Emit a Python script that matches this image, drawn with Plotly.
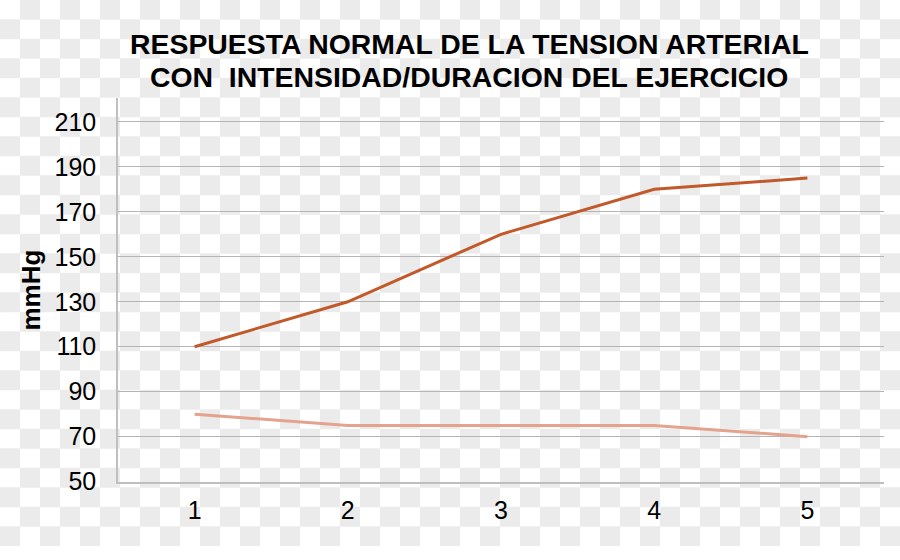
import plotly.graph_objects as go

categories = [1, 2, 3, 4, 5]
sistolica = [110, 130, 160, 180, 185]
diastolica = [80, 75, 75, 75, 70]
y_ticks = [50, 70, 90, 110, 130, 150, 170, 190, 210]
title_lines = ['RESPUESTA NORMAL DE LA TENSION ARTERIAL',
               'CON  INTENSIDAD/DURACION DEL EJERCICIO']

W, H = 900, 560
cell = 20
ncols, nrows = W // cell, H // cell
# transparent-style checkerboard background (grey cells)
cx = [j for i in range(nrows) for j in range(ncols) if (i + j) % 2 == 1]
cy = [i for i in range(nrows) for j in range(ncols) if (i + j) % 2 == 1]

fig = go.Figure()
fig.add_trace(go.Scatter(x=cx, y=cy, mode='markers', hoverinfo='skip',
                         marker=dict(symbol='square', size=cell, color='#ebebeb',
                                     line=dict(width=0)),
                         xaxis='x', yaxis='y'))

fig.add_trace(go.Scatter(x=categories, y=sistolica, mode='lines',
                         line=dict(color='#c2592a', width=3), xaxis='x2', yaxis='y2'))
fig.add_trace(go.Scatter(x=categories, y=diastolica, mode='lines',
                         line=dict(color='#e3a38d', width=3), xaxis='x2', yaxis='y2'))

x0, x1 = 118 / W, 884 / W
y0, y1 = 1 - 494 / H, 1 - 101 / H

fig.update_layout(
    width=W, height=H,
    margin=dict(l=0, r=0, t=0, b=0),
    paper_bgcolor='white', plot_bgcolor='rgba(0,0,0,0)',
    showlegend=False,
    font=dict(family='Liberation Sans, Arial, sans-serif', color='#000000'),
    xaxis=dict(domain=[0, 1], range=[-0.5, ncols - 0.5], visible=False, fixedrange=True),
    yaxis=dict(domain=[0, 1], range=[nrows - 0.5, -0.5], visible=False, fixedrange=True),
    xaxis2=dict(domain=[x0, x1], range=[0.5, 5.5], anchor='y2',
                tickvals=categories, ticktext=[str(c) for c in categories],
                showgrid=False, showline=True, linecolor='#bfbfbf', linewidth=1.5,
                ticks='', tickfont=dict(size=25), zeroline=False, ticklabelstandoff=6),
    yaxis2=dict(domain=[y0, y1], range=[50, 220.4], anchor='x2',
                tickvals=y_ticks, showgrid=True, gridcolor='#b5b5b5', gridwidth=1.2,
                showline=True, linecolor='#bfbfbf', linewidth=1.5, ticks='',
                tickfont=dict(size=25), zeroline=False, ticklabelstandoff=15,
                title=dict(text='<b>mmHg</b>', font=dict(size=26), standoff=6)),
    annotations=[
        dict(text='<b>%s</b>' % title_lines[0], x=469 / W, y=1 - 57 / H,
             xref='paper', yref='paper', showarrow=False,
             font=dict(size=28.4, color='#000000'), xanchor='center', yanchor='bottom', yshift=-6),
        dict(text='<b>%s</b>' % title_lines[1], x=469 / W, y=1 - 91 / H,
             xref='paper', yref='paper', showarrow=False,
             font=dict(size=28.4, color='#000000'), xanchor='center', yanchor='bottom', yshift=-6),
    ],
)

fig.write_html("out.html", config={'displayModeBar': False},
               post_script="document.body.style.margin='0';"
                           "document.body.style.overflow='hidden';"
                           "document.documentElement.style.overflow='hidden';")
